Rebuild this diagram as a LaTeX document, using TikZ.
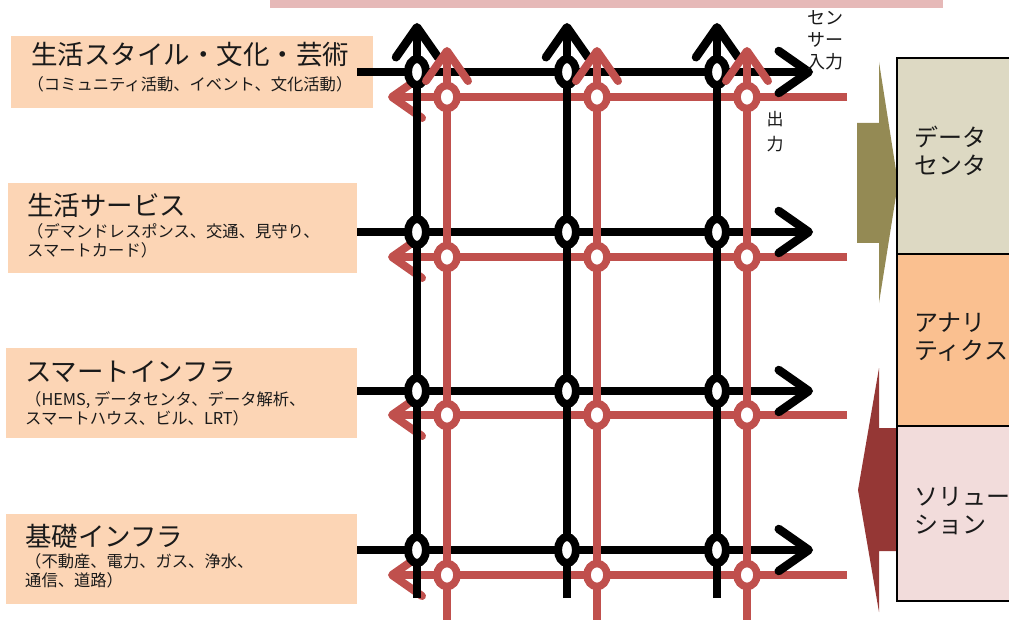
\documentclass[tikz,border=0pt]{standalone}
\usepackage{fontspec}
\newfontfamily\jp{Noto Sans CJK JP}
\usetikzlibrary{arrows.meta,shapes.geometric}
\definecolor{boxfill}{HTML}{FCD5B5}
\definecolor{redln}{HTML}{C0504D}
\definecolor{pinkbar}{HTML}{E6B9B8}
\definecolor{dcfill}{HTML}{DDD9C3}
\definecolor{anfill}{HTML}{FAC090}
\definecolor{sofill}{HTML}{F2DCDB}
\definecolor{olive}{HTML}{948A54}
\definecolor{darkred}{HTML}{953735}
\definecolor{txt}{HTML}{1A1A1A}
\begin{document}
\begin{tikzpicture}[x=1pt,y=-1pt,
  lbox/.style={fill=boxfill, draw=none, inner sep=0},
  title/.style={font=\jp\fontsize{26.5}{30}\selectfont, text=txt, inner sep=0},
  sub/.style={font=\jp\fontsize{16.3}{19}\selectfont, text=txt, inner sep=0, align=left},
  rtxt/.style={font=\jp\fontsize{24}{28}\selectfont, text=txt, inner sep=0, align=left, anchor=west},
  small/.style={font=\jp\fontsize{18}{22}\selectfont, text=txt, inner sep=0, align=left},
  blkln/.style={line width=8.5pt, black, -{Straight Barb[length=30pt,width=42pt,round]}},
  redarr/.style={line width=8pt, redln, -{Straight Barb[length=30pt,width=42pt,round]}},
  bring/.style={ellipse, draw=black, fill=white, line width=8pt, minimum width=18pt, minimum height=26pt, inner sep=0},
  rring/.style={ellipse, draw=redln, fill=white, line width=7.5pt, minimum width=20pt, minimum height=23pt, inner sep=0},
  rseg/.style={draw=black, line width=2pt}
]
\useasboundingbox (0,0) rectangle (1009,620);

% top pink bar
\fill[pinkbar] (270,0) rectangle (943,8);

% left boxes
\node[lbox, minimum width=362pt, minimum height=72pt] (lb1) at (192,72) {};
\node[lbox, minimum width=349pt, minimum height=90pt] (lb2) at (182.5,228) {};
\node[lbox, minimum width=351pt, minimum height=90pt] (lb3) at (181.5,393) {};
\node[lbox, minimum width=351pt, minimum height=90pt] (lb4) at (181.5,559) {};

\node[title] (t1) at (190,55) {生活スタイル・文化・芸術};
\node[sub] (s1) at (190,84) {（コミュニティ活動、イベント、文化活動）};
\node[title, anchor=west] (t2) at (27,205) {生活サービス};
\node[sub, anchor=west] (s2) at (27,241) {（デマンドレスポンス、交通、見守り、\\スマートカード）};
\node[title, anchor=west] (t3) at (25,372) {スマートインフラ};
\node[sub, anchor=west] (s3) at (25,409) {（HEMS, データセンタ、データ解析、\\スマートハウス、ビル、LRT）};
\node[title, anchor=west] (t4) at (25,536) {基礎インフラ};
\node[sub, anchor=west] (s4) at (25,571) {（不動産、電力、ガス、浄水、\\通信、道路）};

% coordinates
\foreach \x [count=\i] in {417,567,717} {
  \coordinate (bvt\i) at (\x,23); \coordinate (bvb\i) at (\x,598);
}
\foreach \x [count=\i] in {447,597,747} {
  \coordinate (rvt\i) at (\x,47); \coordinate (rvb\i) at (\x,622);
}
\foreach \y [count=\j] in {72,232,391,550} {
  \coordinate (bhl\j) at (357,\y); \coordinate (bhr\j) at (813,\y);
}
\foreach \y [count=\j] in {97,257,415,575} {
  \coordinate (rhr\j) at (847,\y); \coordinate (rhl\j) at (388,\y);
}

% red horizontals (output)
\foreach \j in {1,...,4} \draw[redarr] (rhr\j) -- (rhl\j);
% black verticals
\foreach \i in {1,2,3} \draw[blkln] (bvb\i) -- (bvt\i);
% black horizontals
\foreach \j in {1,...,4} \draw[blkln] (bhl\j) -- (bhr\j);
% black rings
\foreach \i/\x in {1/417,2/567,3/717}
  \foreach \j/\y in {1/72,2/232,3/391,4/550}
    \node[bring] (bc\i\j) at (\x,\y) {};
% red verticals
\foreach \i in {1,2,3} \draw[redarr] (rvb\i) -- (rvt\i);
% red rings
\foreach \i/\x in {1/447,2/597,3/747}
  \foreach \j/\y in {1/97,2/257,3/415,4/575}
    \node[rring] (rc\i\j) at (\x,\y) {};

% labels
\node[small, anchor=west] (sens) at (807,40) {セン\\サー\\入力};
\node[font=\jp\fontsize{17}{25}\selectfont, text=txt, inner sep=0, align=center] (out) at (775,132) {出\\力};

% big arrows
\fill[olive] (857,123) -- (879,123) -- (879,62) -- (898,183) -- (879,303) -- (879,243) -- (857,243) -- cycle;
\fill[darkred] (897,428) -- (879,428) -- (879,368) -- (858,490) -- (879,612) -- (879,551) -- (897,551) -- cycle;

% right column
\node[fill=dcfill, rseg, minimum width=130pt, minimum height=196pt, inner sep=0, anchor=north west] (dc) at (896,57) {};
\node[fill=anfill, rseg, minimum width=130pt, minimum height=172pt, inner sep=0, anchor=north west] (an) at (896,253) {};
\node[fill=sofill, rseg, minimum width=130pt, minimum height=175pt, inner sep=0, anchor=north west] (so) at (896,425) {};
\node[rtxt] (dct) at (914,151) {データ\\センタ};
\node[rtxt] (ant) at (914,337) {アナリ\\ティクス};
\node[rtxt] (sot) at (914,511) {ソリュー\\ション};
\end{tikzpicture}
\end{document}
